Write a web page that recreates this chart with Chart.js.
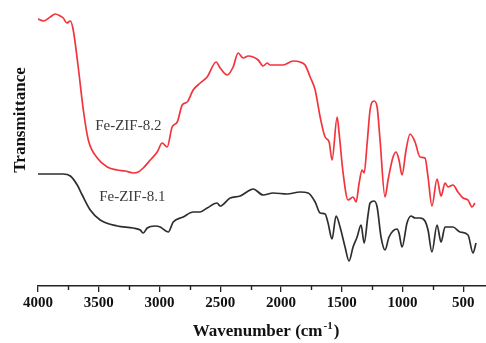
<!DOCTYPE html>
<html>
<head>
<meta charset="utf-8">
<script src="https://cdn.jsdelivr.net/npm/chart.js@4"></script>
<style>
  body { margin: 0; background: #fff; }
  #wrap { width: 486px; height: 343px; position: relative; }
</style>
</head>
<body>
<div id="wrap"><canvas id="ftirChart"></canvas></div>
<script>
// Fe-ZIF-8.2 (red trace): wavenumber (cm-1) and transmittance (a.u.)
const redWave = [4000, 3956, 3899, 3858, 3817, 3792, 3762, 3734, 3710, 3669, 3627, 3586, 3512, 3430, 3348, 3282, 3216, 3175, 3134, 3076,
  3019, 2978, 2937, 2896, 2854, 2813, 2772, 2723, 2665, 2608, 2534, 2501, 2443, 2394, 2353, 2312, 2270, 2229, 2188, 2147,
  2114, 2090, 1983, 1900, 1843, 1802, 1760, 1719, 1678, 1637, 1604, 1580, 1538, 1522, 1489, 1448, 1407, 1382, 1357, 1333,
  1316, 1291, 1267, 1234, 1209, 1185, 1144, 1119, 1078, 1053, 1029, 1004, 971, 938, 897, 856, 815, 790, 758, 716,
  683, 650, 626, 585, 544, 502, 461, 428, 404];
const redT = [267, 265, 269, 272, 270, 268, 263, 265, 256, 219, 176, 146, 128, 119, 116, 115, 113, 114, 118, 126,
  134, 143, 139, 159, 164, 181, 184, 196, 203, 209, 224, 218, 211, 219, 233, 228, 230, 229, 226, 220,
  223, 221, 221, 225, 224, 221, 209, 196, 169, 149, 144, 126, 169, 153, 113, 86, 89, 84, 103, 116,
  113, 143, 176, 185, 179, 146, 89, 106, 129, 134, 126, 111, 136, 152, 144, 129, 128, 109, 80, 107,
  90, 103, 99, 101, 94, 88, 86, 79, 83];

// Fe-ZIF-8.1 (black trace)
const blackWave = [4000, 3874, 3792, 3734, 3677, 3636, 3570, 3488, 3348, 3216, 3158, 3134, 3101, 3035, 2994, 2928, 2887, 2805, 2723, 2665,
  2608, 2526, 2501, 2419, 2336, 2254, 2229, 2147, 2065, 1950, 1843, 1777, 1719, 1678, 1637, 1613, 1580, 1547, 1514, 1473,
  1440, 1407, 1374, 1341, 1316, 1284, 1267, 1234, 1209, 1177, 1144, 1111, 1045, 1029, 1004, 963, 930, 897, 856, 815,
  790, 758, 716, 683, 650, 585, 527, 461, 420, 395];
const blackT = [112, 112, 112, 110, 101, 91, 76, 66, 60, 58, 56, 53, 58, 60, 59, 54, 64, 69, 74, 74,
  78, 83, 80, 88, 90, 96, 97, 91, 93, 92, 94, 93, 84, 73, 72, 63, 47, 70, 59, 39,
  25, 39, 49, 61, 43, 71, 83, 85, 79, 49, 36, 49, 57, 53, 39, 63, 70, 68, 68, 65,
  56, 34, 61, 44, 59, 59, 54, 51, 33, 43];

const seriesNames = ['Fe-ZIF-8.2', 'Fe-ZIF-8.1'];
const seriesColors = ['#f2343c', '#2e2e2e'];
// where the sample names sit, in data units [wavenumber, transmittance]
const nameSpots = [[3257, 160], [3224, 89]];

// tick values
const majorTicks = [4000, 3500, 3000, 2500, 2000, 1500, 1000, 500];
const minorTicks = [3750, 3250, 2750, 2250, 1750, 1250, 750];

const serif = "'Liberation Serif', 'Times New Roman', serif";

function toPoints(xs, ys) {
    return xs.map((x, i) => ({ x: x, y: ys[i] }));
}

// textos que Chart.js no coloca donde queremos
const annotations = {
    id: 'annotations',
    afterDraw(chart) {
        const c = chart.ctx;
        const xs = chart.scales.x;
        const ys = chart.scales.y;
        c.save();

        // minor ticks (short)
        c.strokeStyle = '#222';
        c.lineWidth = 1.4;
        c.beginPath();
        minorTicks.forEach(v => {
            const px = Math.round(xs.getPixelForValue(v)) + 0.5;
            c.moveTo(px, xs.top);
            c.lineTo(px, xs.top + 4);
        });
        c.stroke();

        c.fillStyle = '#3a3a3a';
        c.font = '15px ' + serif;
        c.textAlign = 'center';
        c.textBaseline = 'middle';
        nameSpots.forEach((p, i) => {
            c.fillText(seriesNames[i], xs.getPixelForValue(p[0]), ys.getPixelForValue(p[1]));
        });

        // y title
        c.fillStyle = '#111';
        c.font = 'bold 17px ' + serif;
        c.save();
        c.translate(21, 120);
        c.rotate(-Math.PI / 2);
        c.fillText('Transmittance', 0, 0);
        c.restore();

        // x title with superscript
        const main = 'Wavenumber (cm';
        const sup = '-1';
        const tail = ')';
        c.textAlign = 'left';
        c.textBaseline = 'alphabetic';
        c.font = 'bold 17px ' + serif;
        const w1 = c.measureText(main).width;
        const w3 = c.measureText(tail).width;
        c.font = 'bold 11px ' + serif;
        const w2 = c.measureText(sup).width;
        let x0 = 265 - (w1 + w2 + w3) / 2;
        const base = 336;
        c.font = 'bold 17px ' + serif;
        c.fillText(main, x0, base);
        c.font = 'bold 11px ' + serif;
        c.fillText(sup, x0 + w1 + 1, base - 7);
        c.font = 'bold 17px ' + serif;
        c.fillText(tail, x0 + w1 + w2 + 2, base);
        c.restore();
    }
};

const ctx = document.getElementById('ftirChart').getContext('2d');
new Chart(ctx, {
    type: 'line',
    data: {
        datasets: [
            {
                label: seriesNames[0],
                data: toPoints(redWave, redT),
                borderColor: seriesColors[0],
                borderWidth: 1.7,
                pointRadius: 0,
                cubicInterpolationMode: 'monotone',
                fill: false
            },
            {
                label: seriesNames[1],
                data: toPoints(blackWave, blackT),
                borderColor: seriesColors[1],
                borderWidth: 1.7,
                pointRadius: 0,
                cubicInterpolationMode: 'monotone',
                fill: false
            }
        ]
    },
    options: {
        responsive: true,
        maintainAspectRatio: false,
        animation: false,
        layout: { padding: 0 },
        plugins: {
            legend: { display: false },
            tooltip: { enabled: false }
        },
        scales: {
            x: {
                type: 'linear',
                position: 'bottom',
                reverse: true,
                min: 313,
                max: 4000,
                afterBuildTicks: (s) => { s.ticks = majorTicks.map(v => ({ value: v })); },
                ticks: {
                    autoSkip: false,
                    maxRotation: 0,
                    padding: 2,
                    color: '#111',
                    font: { family: serif, size: 15, weight: 'bold' },
                    callback: (v) => String(v)
                },
                grid: { drawOnChartArea: false, tickLength: 6, color: '#222', lineWidth: 1.3 },
                border: { display: true, color: '#222', width: 1.5 },
                afterFit: (s) => { s.height = 57; }
            },
            y: {
                min: 0,
                max: 286,
                ticks: { display: false },
                grid: { display: false },
                border: { display: false },
                afterFit: (s) => { s.width = 38; }
            }
        }
    },
    plugins: [annotations]
});
</script>
</body>
</html>
